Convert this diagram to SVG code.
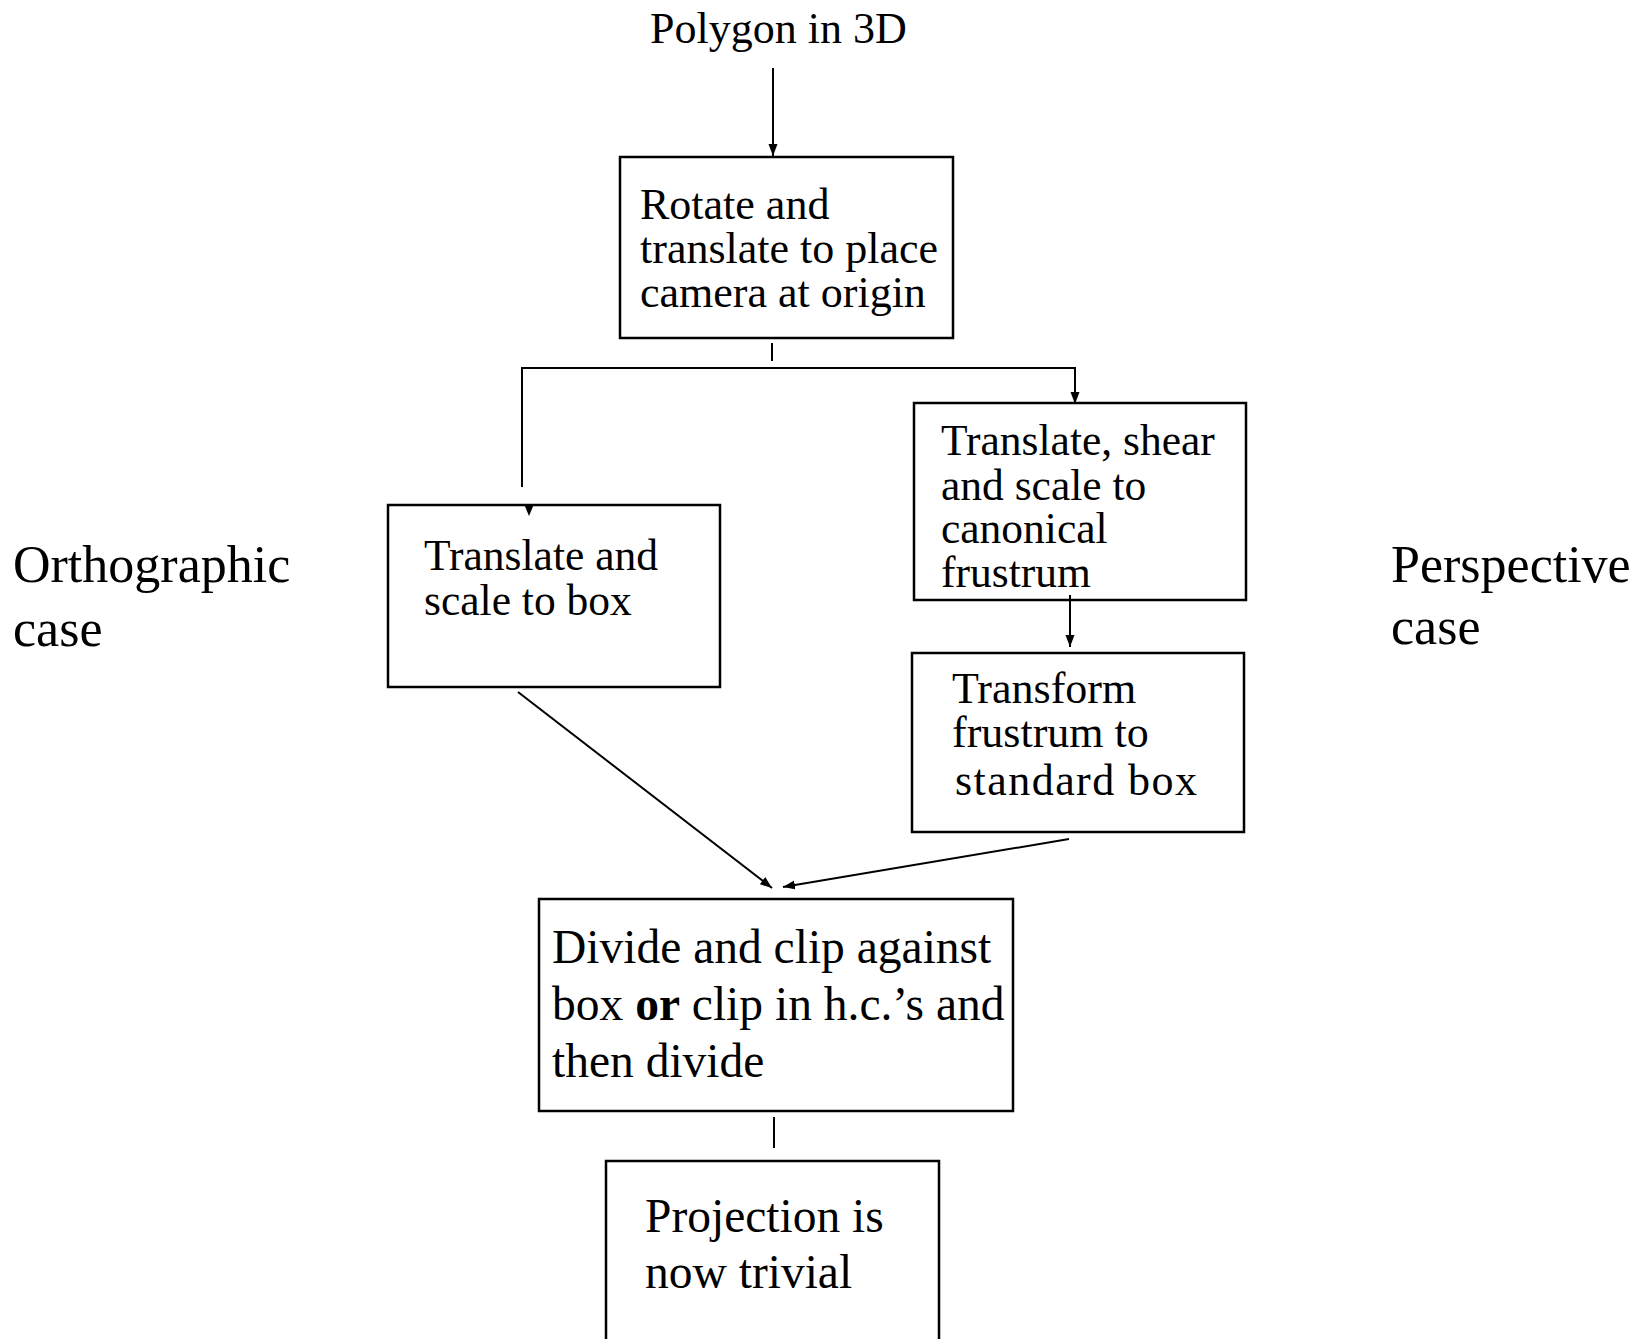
<svg xmlns="http://www.w3.org/2000/svg" width="1646" height="1339" viewBox="0 0 1646 1339">
<style>
.box{fill:#fff;stroke:#000;stroke-width:2.5}
.t{font-family:"Liberation Serif","Times New Roman",serif;fill:#000}
.c{stroke:#000;stroke-width:2;fill:none}
</style>
<defs>
<marker id="ah" markerUnits="userSpaceOnUse" markerWidth="13" markerHeight="10" refX="12" refY="4.5" orient="auto">
<path d="M0,0 L12,4.5 L0,9 z" fill="#000"/>
</marker>
</defs>
<rect width="1646" height="1339" fill="#fff"/>
<g id="polygon">
<text class="t" x="650" y="43" font-size="44">Polygon in 3D</text>
</g>
<g id="ortho-label">
<text class="t" x="13" y="582" font-size="52">Orthographic</text>
<text class="t" x="13" y="646" font-size="52">case</text>
</g>
<g id="persp-label">
<text class="t" x="1391" y="582" font-size="52">Perspective</text>
<text class="t" x="1391" y="644" font-size="52">case</text>
</g>
<g id="rotate">
<rect class="box" x="620" y="157" width="333" height="181"/>
<text class="t" x="640" y="219" font-size="44">Rotate and</text>
<text class="t" x="640" y="263" font-size="44">translate to place</text>
<text class="t" x="640" y="307" font-size="44">camera at origin</text>
</g>
<g id="ortho-box">
<rect class="box" x="388" y="505" width="332" height="182"/>
<text class="t" x="424" y="570" font-size="43.5">Translate and</text>
<text class="t" x="424" y="615" font-size="43.5">scale to box</text>
</g>
<g id="shear">
<rect class="box" x="914" y="403" width="332" height="197"/>
<text class="t" x="941" y="455" font-size="43.5">Translate, shear</text>
<text class="t" x="941" y="500" font-size="43.5">and scale to</text>
<text class="t" x="941" y="543" font-size="43.5">canonical</text>
<text class="t" x="941" y="587" font-size="43.5">frustrum</text>
</g>
<g id="transform">
<rect class="box" x="912" y="653" width="332" height="179"/>
<text class="t" x="952" y="703" font-size="44">Transform</text>
<text class="t" x="952" y="747" font-size="44">frustrum to</text>
<text class="t" x="955" y="795" font-size="44" textLength="242" lengthAdjust="spacing">standard box</text>
</g>
<g id="divide">
<rect class="box" x="539" y="899" width="474" height="212"/>
<text class="t" x="552" y="963" font-size="47.5">Divide and clip against</text>
<text class="t" x="552" y="1020" font-size="47.5">box <tspan font-weight="bold">or</tspan> clip in h.c.’s and</text>
<text class="t" x="552" y="1077" font-size="47.5">then divide</text>
</g>
<g id="projection">
<rect class="box" x="606" y="1161" width="333" height="190"/>
<text class="t" x="645" y="1232" font-size="47.5">Projection is</text>
<text class="t" x="645" y="1288" font-size="47.5">now trivial</text>
</g>
<g id="connectors">
<line class="c" x1="773" y1="68" x2="773" y2="156" marker-end="url(#ah)"/>
<line class="c" x1="772" y1="343" x2="772" y2="361"/>
<polyline class="c" points="522,487 522,368 1075,368 1075,404" marker-end="url(#ah)"/>
<polygon points="524,504 534,504 529,516" fill="#000"/>
<line class="c" x1="1070" y1="595" x2="1070" y2="647" marker-end="url(#ah)"/>
<line class="c" x1="518" y1="692" x2="772" y2="888" marker-end="url(#ah)"/>
<line class="c" x1="1069" y1="839" x2="783" y2="887" marker-end="url(#ah)"/>
<line class="c" x1="774" y1="1117" x2="774" y2="1148"/>
</g>
</svg>
